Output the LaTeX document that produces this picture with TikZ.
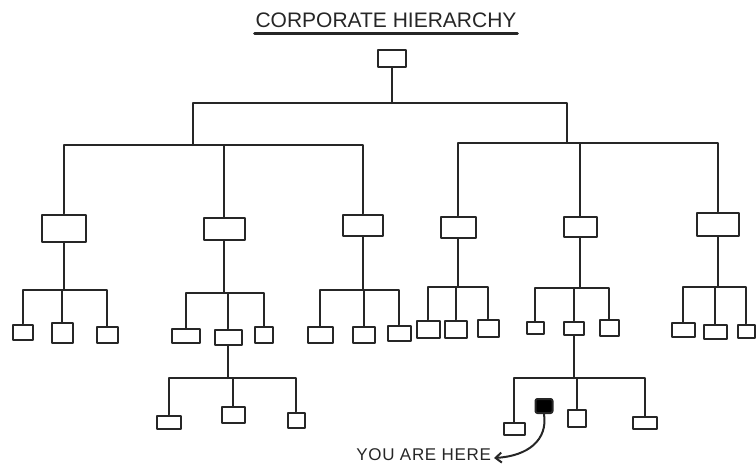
\documentclass[tikz,border=0pt]{standalone}
\usepackage{fontspec}
\setmainfont{Liberation Sans}
\usetikzlibrary{arrows.meta}

\begin{document}
\begin{tikzpicture}[x=1pt,y=-1pt,line width=2pt,line join=round,line cap=round,color=black!85,
    mgr/.style={draw, minimum width=40pt, minimum height=23pt, inner sep=0pt},
    staff/.style={draw, minimum width=21pt, minimum height=16pt, inner sep=0pt}]
    \useasboundingbox (0,0) rectangle (756,466);
    % title
    \node[inner sep=0pt, font=\fontsize{21}{24}\selectfont] (title) at (386,20) {CORPORATE HIERARCHY};
    \draw[line width=2.8pt] ([yshift=-5pt]title.south west) -- ([yshift=-5pt]title.south east);
    % top
    \node[draw, minimum width=28pt, minimum height=17pt, inner sep=0pt] (ceo) at (392,58) {};
    % managers
    \foreach \n/\x/\y/\w/\h in {mA/64/228/44/27, mB/224/229/41/22, mC/363/225/40/21,
                                mD/458/227/35/21, mE/580/227/33/20, mF/718/224/42/23}
      {\node[mgr, minimum width=\w, minimum height=\h] (\n) at (\x,\y) {};}
    % staff
    \foreach \n/\x/\y/\w/\h in {sA1/23/332/20/15, sA2/62/333/21/20, sA3/107/335/21/16,
                                sB1/186/336/28/14, sB2/228/337/27/15, sB3/264/335/18/16,
                                sC1/320/335/25/16, sC2/364/335/22/16, sC3/399/333/23/15,
                                sD1/428/329/23/17, sD2/456/329/22/17, sD3/488/328/21/17,
                                sE1/535/328/17/12, sE2/574/328/20/13, sE3/609/328/19/16,
                                sF1/683/330/23/14, sF2/715/332/23/14, sF3/746/331/17/13}
      {\node[staff, minimum width=\w, minimum height=\h] (\n) at (\x,\y) {};}
    % bottom level
    \foreach \n/\x/\y/\w/\h in {t1/169/422/24/13, t2/233/415/23/16, t3/296/420/17/15,
                                u1/514/429/21/12, u2/577/418/18/17, u3/645/423/24/12}
      {\node[staff, minimum width=\w, minimum height=\h] (\n) at (\x,\y) {};}
    % you
    \node[draw, fill=black, minimum width=17pt, minimum height=14pt, inner sep=0pt, rounded corners=2pt] (you) at (544,406) {};
    \node[anchor=east, inner sep=2pt, font=\fontsize{17}{20}\selectfont\addfontfeatures{LetterSpace=4}] (here) at (494,455) {YOU ARE HERE};
    % top connectors
    \coordinate (t0) at (392,103);
    \coordinate (jL) at (193,145);
    \coordinate (jR) at (567,143);
    \draw (ceo) -- (t0);
    \draw (jL) |- (t0) -| (jR);
    \draw (mA) |- (jL) -| (mC);
    \draw (mB) -- (mB |- jL);
    \draw (mD) |- (jR) -| (mF);
    \draw (mE) -- (mE |- jR);
    % manager to staff
    \foreach \g/\y in {A/290, B/293, C/290, D/287, E/288, F/287} {
      \draw (m\g) -- (m\g |- 0,\y);
      \draw (s\g1) |- (m\g |- 0,\y) -| (s\g3);
      \draw (s\g2) -- (s\g2 |- 0,\y);
    }
    % staff to bottom
    \foreach \p/\g/\y in {sB2/t/378, sE2/u/378} {
      \draw (\p) -- (\p |- 0,\y);
      \draw (\g1) |- (\p |- 0,\y) -| (\g3);
      \draw (\g2) -- (\g2 |- 0,\y);
    }
    % arrow
    \draw[-{Straight Barb[length=6pt,width=10pt]}] (you.south) .. controls (548,440) and (528,456) .. ([yshift=-3pt]here.east);
\end{tikzpicture}
\end{document}
